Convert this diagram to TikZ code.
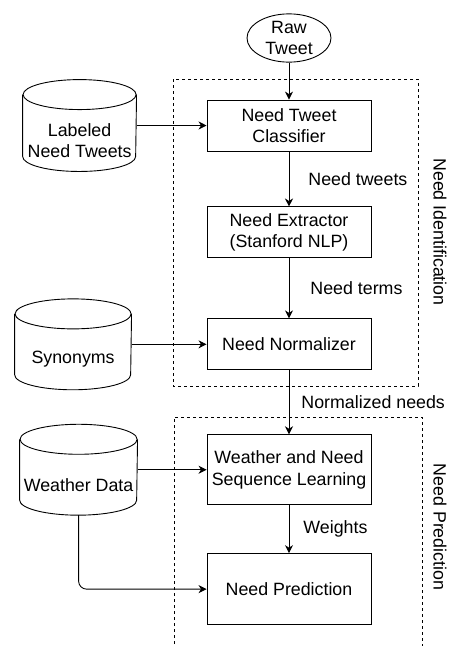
\documentclass[tikz,border=0pt]{standalone}
\usepackage{fontspec}
\setmainfont{Liberation Sans}
\usetikzlibrary{positioning,shapes.geometric,arrows.meta}

\begin{document}
\begin{tikzpicture}[x=1pt, y=-1pt, line width=0.9pt,
  font=\fontsize{17.8}{21.7}\selectfont,
  proc/.style={rectangle, draw=black, align=center, minimum width=164pt, minimum height=51pt, inner sep=2pt},
  store/.style={rectangle, align=center, minimum width=113pt, minimum height=60pt, inner sep=0pt, yshift=-15pt},
  group/.style={draw=black, dash pattern=on 3pt off 3pt},
  flow/.style={-{Stealth[length=8pt, width=8pt, inset=2.5pt]}},
  lbl/.style={inner sep=0pt}]
  \useasboundingbox (0,0) rectangle (449,646);

  \node[ellipse, draw=black, align=center, minimum width=84pt, minimum height=48pt, inner sep=0pt](raw) at (289,38){Raw\\Tweet};
  \node[proc, below=37pt of raw](clf){Need Tweet\\Classifier};
  \node[proc, below=55pt of clf](ext){Need Extractor\\(Stanford NLP)};
  \node[proc, below=60pt of ext](norm){Need Normalizer};
  \node[proc, below=64pt of norm, minimum height=70pt](seq){Weather and Need\\Sequence Learning};
  \node[proc, below=48pt of seq, minimum height=71pt](pred){Need Prediction};

  \node[store, left=70pt of clf, minimum height=61pt](lab){Labeled\\Need Tweets};
  \node[store, left=75pt of norm, minimum width=116pt](syn){Synonyms};
  \node[store, left=69pt of seq, minimum width=117pt](wd){Weather Data};

  \foreach \n/\r in {lab/56.5pt, syn/58pt, wd/58.5pt}{
    \draw ([yshift=15pt]\n.north) ellipse[x radius=\r, y radius=15pt];
    \draw ([yshift=15pt]\n.north west) -- ([yshift=15pt]\n.south west)
      arc[start angle=180, end angle=360, x radius=\r, y radius=15pt] -- ([yshift=15pt]\n.north east);
  }

  \draw[group] (173,79) rectangle (418,386);
  \draw[group] (174,650) |- (422,417) -- (422,650);
  \node[rotate=-90](idlbl) at (440,232){Need Identification};
  \node[rotate=-90](prlbl) at (440,527){Need Prediction};

  \path[flow]
  (raw) edge (clf)
  (clf) edge node[lbl, right=19pt]{Need tweets} (ext)
  (ext) edge node[lbl, right=21pt]{Need terms} (norm)
  (norm) edge node[lbl, right=12pt]{Normalized needs} (seq)
  (seq) edge node[lbl, right=14pt]{Weights} (pred)
  (lab.east |- clf) edge (clf)
  (syn.east |- norm) edge (norm)
  (wd.east |- seq) edge (seq);

  \draw[flow, rounded corners=8pt] (wd) |- (pred);
\end{tikzpicture}
\end{document}
